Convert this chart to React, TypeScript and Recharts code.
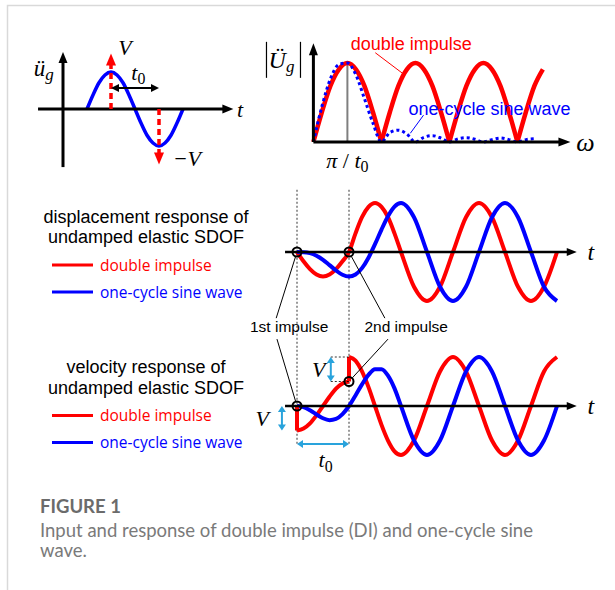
import React from "react";
import { ComposedChart, Line, XAxis, YAxis, ReferenceLine, ReferenceDot } from "recharts";

// ground acceleration: one cycle of sine, time in units of t0
const inputT = [0, 0.125, 0.25, 0.375, 0.5, 0.625, 0.75, 0.875, 1, 1.125, 1.25, 1.375, 1.5, 1.625, 1.75, 1.875, 2];
const inputAcc = [0, 0.38, 0.71, 0.92, 1, 0.92, 0.71, 0.38, 0, -0.38, -0.71, -0.92, -1, -0.92, -0.71, -0.38, 0];
const impulseSize = 1.5; // drawn length of the ±V impulse arrows

// Fourier amplitude, ω in units of π/t0
const omega = [0, 0.25, 0.5, 0.75, 1, 1.25, 1.5, 1.75, 2, 2.25, 2.5, 2.75, 3, 3.25, 3.5, 3.75, 4, 4.25, 4.5, 4.75, 5, 5.25, 5.5, 5.75, 6, 6.25, 6.5, 6.75];
const diSpectrum = [0, 0.38, 0.71, 0.92, 1, 0.92, 0.71, 0.38, 0, 0.38, 0.71, 0.92, 1, 0.92, 0.71, 0.38, 0, 0.38, 0.71, 0.92, 1, 0.92, 0.71, 0.38, 0, 0.38, 0.71, 0.92];
// stops at ω = 6.5
const sineSpectrum = [0, 0.45, 0.8, 0.98, 1, 0.85, 0.55, 0.24, 0, 0.12, 0.15, 0.1, 0, 0.06, 0.08, 0.05, 0, 0.04, 0.055, 0.035, 0, 0.03, 0.05, 0.03, 0, 0.03, 0.04];

// responses of the undamped SDOF, t in units of t0
const respT = [0, 0.125, 0.25, 0.375, 0.5, 0.625, 0.75, 0.875, 1, 1.125, 1.25, 1.375, 1.5, 1.625, 1.75, 1.875, 2, 2.25, 2.5, 2.75, 3, 3.25, 3.5, 3.75, 4, 4.25, 4.5, 4.75, 5];
const diDisp = [0, -0.19, -0.35, -0.46, -0.5, -0.46, -0.35, -0.19, 0, 0.38, 0.71, 0.92, 1, 0.92, 0.71, 0.38, 0, -0.71, -1, -0.71, 0, 0.71, 1, 0.71, 0, -0.71, -1, -0.71, 0];
const sineDisp = [0, -0.003, -0.024, -0.075, -0.159, -0.267, -0.378, -0.465, -0.5, -0.459, -0.329, -0.116, 0.159, 0.458, 0.731, 0.927, 1, 0.71, 0, -0.71, -1, -0.71, 0, 0.71, 1, 0.71, 0, -0.71, -1];
const diVelBefore = [-1, -0.92, -0.71, -0.38, 0, 0.38, 0.71, 0.92, 1]; // 0 ≤ t ≤ t0
const diVelAfter = [2, 1.85, 1.41, 0.77, 0, -0.77, -1.41, -1.85, -2, -1.41, 0, 1.41, 2, 1.41, 0, -1.41, -2, -1.41, 0, 1.41, 2]; // t ≥ t0
const sineVel = [0, -0.048, -0.177, -0.346, -0.5, -0.577, -0.53, -0.335, 0, 0.431, 0.884, 1.27, 1.5, 1.501, 1.237, 0.718, 0, -1.41, -2, -1.41, 0, 1.41, 2, 1.41, 0, -1.41, -2, -1.41, 0];
const impulseTimes = [0, 1];

const seriesNames = ["double impulse", "one-cycle sine wave"];

const RED = "#ff0000";
const BLUE = "#0000ff";
const CYAN = "#29a3dc";
const SERIF = "'Liberation Serif', 'DejaVu Serif', serif";
const SANS = "'Liberation Sans', Arial, sans-serif";
const LEGEND_FONT = "'Open Sans', 'Noto Sans', sans-serif";
const CAPTION_FONT = "Lato, 'Open Sans', sans-serif";
const NO_MARGIN = { top: 0, right: 0, bottom: 0, left: 0 };

type ArrowStyle = { color: string; width: number; dash?: string; start?: boolean; end?: boolean; head?: number; half?: number; trim?: number };

// line shape for ReferenceLine with optional filled arrowheads
function arrow(s: ArrowStyle) {
  return (p: any) => {
    let { x1, y1 } = p;
    const { x2, y2 } = p;
    const len = Math.hypot(x2 - x1, y2 - y1) || 1;
    const ux = (x2 - x1) / len;
    const uy = (y2 - y1) / len;
    if (s.trim) {
      x1 += ux * s.trim;
      y1 += uy * s.trim;
    }
    const h = s.head ?? 10;
    const w = s.half ?? 4;
    const tri = (tx: number, ty: number, dx: number, dy: number) =>
      `${tx},${ty} ${tx - dx * h - dy * w},${ty - dy * h + dx * w} ${tx - dx * h + dy * w},${ty - dy * h - dx * w}`;
    const sx = s.start ? x1 + ux * h * 0.9 : x1;
    const sy = s.start ? y1 + uy * h * 0.9 : y1;
    const ex = s.end ? x2 - ux * h * 0.9 : x2;
    const ey = s.end ? y2 - uy * h * 0.9 : y2;
    return (
      <g>
        <line x1={sx} y1={sy} x2={ex} y2={ey} stroke={s.color} strokeWidth={s.width} strokeDasharray={s.dash} />
        {s.end && <polygon points={tri(x2, y2, ux, uy)} fill={s.color} />}
        {s.start && <polygon points={tri(x1, y1, -ux, -uy)} fill={s.color} />}
      </g>
    );
  };
}

const seg = (x1: number, y1: number, x2: number, y2: number, style: ArrowStyle, yAxisId: string | number = 0) => (
  <ReferenceLine
    yAxisId={yAxisId}
    ifOverflow="visible"
    segment={[{ x: x1, y: y1 }, { x: x2, y: y2 }]}
    shape={arrow(style)}
  />
);

const textAt = (x: number, y: number, render: (cx: number, cy: number) => React.ReactNode, yAxisId: string | number = 0) => (
  <ReferenceDot x={x} y={y} r={0} yAxisId={yAxisId} ifOverflow="visible" shape={(p: any) => <g>{render(p.cx, p.cy)}</g>} />
);

const ring = (p: any) => <circle cx={p.cx} cy={p.cy} r={4.5} fill="none" stroke="#000" strokeWidth={2} />;

const italic = (s: string, size = 22) => (x: number, y: number) => (
  <text x={x} y={y} fontFamily={SERIF} fontStyle="italic" fontSize={size} textAnchor="middle" dominantBaseline="central">
    {s}
  </text>
);

const tZero = (size = 22) => (x: number, y: number) => (
  <text x={x} y={y} fontFamily={SERIF} fontSize={size} textAnchor="middle" dominantBaseline="central">
    <tspan fontStyle="italic">t</tspan>
    <tspan fontSize={size * 0.72} dy={size * 0.3}>0</tspan>
  </text>
);

const plain = (s: string, color: string, size: number) => (x: number, y: number) => (
  <text x={x} y={y} fontFamily={SANS} fontSize={size} fill={color} textAnchor="middle" dominantBaseline="central">
    {s}
  </text>
);

const curve = (key: string, color: string, width: number, yAxisId: string | number = 0, dash?: string) => (
  <Line
    dataKey={key}
    yAxisId={yAxisId}
    type="monotone"
    stroke={color}
    strokeWidth={width}
    strokeDasharray={dash}
    dot={false}
    activeDot={false}
    connectNulls={false}
    isAnimationActive={false}
  />
);

function InputPanel() {
  const rows = inputT.map((t, i) => ({ t, acc: inputAcc[i] }));
  const peak = rows.reduce((a, b) => (b.acc > a.acc ? b : a));
  const trough = rows.reduce((a, b) => (b.acc < a.acc ? b : a));
  const impulse = { color: RED, width: 3.5, dash: "6 4", end: true, head: 12, half: 5 };
  return (
    <div style={{ position: "absolute", left: 27, top: 35 }}>
      <ComposedChart width={228} height={148} data={rows} margin={NO_MARGIN}>
        <XAxis type="number" dataKey="t" domain={[-1.25, 3.5]} hide allowDataOverflow />
        <YAxis type="number" domain={[-2, 2]} hide allowDataOverflow />
        {curve("acc", BLUE, 3.5)}
        {seg(-1.02, 0, 3.05, 0, { color: "#000", width: 3, end: true, head: 11, half: 4.5 })}
        {seg(-0.5, -1.57, -0.5, 1.54, { color: "#000", width: 3, end: true, head: 11, half: 4.5 })}
        {seg(peak.t, 0, peak.t, impulseSize, impulse)}
        {seg(trough.t, 0, trough.t, -impulseSize, impulse)}
        {seg(peak.t, 0.57, trough.t, 0.57, { color: "#000", width: 2, start: true, end: true, head: 8, half: 4 })}
        {textAt(0.79, 1.65, italic("V"))}
        {textAt(1.07, 1.01, tZero())}
        {textAt(3.19, 0, italic("t"))}
        {textAt(2.08, -1.35, italic("\u2212V"))}
        {textAt(-0.9, 1.1, (x, y) => (
          <text x={x} y={y} fontFamily={SERIF} fontStyle="italic" fontSize={23} textAnchor="middle" dominantBaseline="central">
            ü<tspan fontSize={17} dy={6}>g</tspan>
          </text>
        ))}
      </ComposedChart>
    </div>
  );
}

function SpectrumPanel() {
  // break the |sin| spectrum into humps at its zeros so the cusps stay sharp
  let hump = 0;
  const rows = omega.map((u, i) => {
    const row: Record<string, number | null> = { u, sine: i < sineSpectrum.length ? sineSpectrum[i] : null };
    const v = diSpectrum[i];
    row[`di${hump}`] = v;
    if (i > 0 && v === 0) {
      hump += 1;
      row[`di${hump}`] = v;
    }
    return row;
  });
  const humpKeys = Array.from({ length: hump + 1 }, (_, k) => `di${k}`);
  const axis = { color: "#000", width: 3, end: true, head: 12, half: 4.5 };
  return (
    <div style={{ position: "absolute", left: 258.6, top: 30 }}>
      <ComposedChart width={340} height={145} data={rows} margin={NO_MARGIN}>
        <XAxis type="number" dataKey="u" domain={[-1.6, 8.4]} hide allowDataOverflow />
        <YAxis type="number" domain={[-33 / 79, 112 / 79]} hide allowDataOverflow />
        {seg(1, 0, 1, 1, { color: "#7f7f7f", width: 2 })}
        {humpKeys.map((k) => (
          <Line key={k} dataKey={k} type="monotone" stroke={RED} strokeWidth={4.5} dot={false} activeDot={false} connectNulls={false} isAnimationActive={false} />
        ))}
        {curve("sine", BLUE, 3, 0, "3 3")}
        {seg(0, 0, 7.56, 0, axis)}
        {seg(0, 0, 0, 1.25, axis)}
        {seg(1.82, 1.13, 2.62, 0.87, { color: RED, width: 1 })}
        {seg(3.24, 0.34, 2.85, 0.11, { color: BLUE, width: 1 })}
        {textAt(2.88, 1.24, plain(seriesNames[0], RED, 18))}
        {textAt(5.18, 0.42, plain(seriesNames[1], BLUE, 18))}
        {textAt(8, 0, italic("\u03c9", 26))}
        {textAt(1, -0.23, (x, y) => (
          <text x={x} y={y} fontFamily={SERIF} fontSize={22} textAnchor="middle" dominantBaseline="central">
            <tspan fontStyle="italic">π</tspan> / <tspan fontStyle="italic">t</tspan>
            <tspan fontSize={16} dy={6}>0</tspan>
          </text>
        ))}
        {textAt(-0.88, 1.04, (x, y) => (
          <g>
            <line x1={x - 17} y1={y - 18} x2={x - 17} y2={y + 18} stroke="#000" strokeWidth={1.2} />
            <line x1={x + 17} y1={y - 18} x2={x + 17} y2={y + 18} stroke="#000" strokeWidth={1.2} />
            <text x={x - 2} y={y} fontFamily={SERIF} fontStyle="italic" fontSize={24} textAnchor="middle" dominantBaseline="central">
              Ü<tspan fontSize={17} dy={6}>g</tspan>
            </text>
          </g>
        ))}
      </ComposedChart>
    </div>
  );
}

function ResponsePanel() {
  const split = diVelBefore.length - 1;
  const rows = respT.map((t, i) => ({
    t,
    diDisp: diDisp[i],
    sineDisp: sineDisp[i],
    diVelA: i <= split ? diVelBefore[i] : null,
    diVelB: i >= split ? diVelAfter[i - split] : null,
    sineVel: sineVel[i],
  }));
  const [t1, t2] = impulseTimes;
  const jumps = [
    { t: t1, from: 0, to: diVelBefore[0] },
    { t: t2, from: diVelBefore[split], to: diVelAfter[0] },
  ];
  const axis = { color: "#000", width: 2.5, end: true, head: 10, half: 4 };
  const dotted = { color: "#000", width: 0.8, dash: "2 2" };
  const leader = { color: "#000", width: 1, trim: 5 };
  const cyan = { color: CYAN, width: 2, start: true, end: true, head: 6, half: 4 };
  return (
    <div style={{ position: "absolute", left: 245, top: 180 }}>
      <ComposedChart width={364} height={300} data={rows} margin={NO_MARGIN}>
        <XAxis type="number" dataKey="t" domain={[-1, 6]} hide allowDataOverflow />
        <YAxis yAxisId="disp" type="number" domain={[-228 / 49, 72 / 49]} hide allowDataOverflow />
        <YAxis yAxisId="vel" type="number" domain={[-74 / 24.5, 226 / 24.5]} hide allowDataOverflow />
        {impulseTimes.map((t) => (
          <ReferenceLine key={`v${t}`} yAxisId="disp" ifOverflow="visible" segment={[{ x: t, y: 1.27 }, { x: t, y: -3.92 }]} shape={arrow(dotted)} />
        ))}
        {curve("diDisp", RED, 4, "disp")}
        {curve("sineDisp", BLUE, 4, "disp")}
        {curve("diVelA", RED, 4, "vel")}
        {curve("diVelB", RED, 4, "vel")}
        {curve("sineVel", BLUE, 4, "vel")}
        {jumps.map((j) => (
          <ReferenceLine key={`j${j.t}`} yAxisId="vel" ifOverflow="visible" segment={[{ x: j.t, y: j.from }, { x: j.t, y: j.to }]} shape={arrow({ color: RED, width: 4 })} />
        ))}
        {seg(-0.23, 0, 5.38, 0, axis, "disp")}
        {seg(-0.23, 0, 5.38, 0, axis, "vel")}
        {textAt(5.65, 0, italic("t", 24), "disp")}
        {textAt(5.65, 0, italic("t", 24), "vel")}

        {/* impulse markers and their call-outs */}
        <ReferenceDot yAxisId="disp" x={t1} y={0} ifOverflow="visible" shape={ring} />
        <ReferenceDot yAxisId="disp" x={t2} y={0} ifOverflow="visible" shape={ring} />
        <ReferenceDot yAxisId="vel" x={t1} y={0} ifOverflow="visible" shape={ring} />
        <ReferenceDot yAxisId="vel" x={t2} y={jumps[1].from} ifOverflow="visible" shape={ring} />
        {seg(t1, 0, -0.4, -1.35, leader, "disp")}
        {seg(t2, 0, 1.69, -1.35, leader, "disp")}
        {seg(t1, 0, -0.385, 2.73, leader, "vel")}
        {seg(t2, jumps[1].from, 1.75, 2.73, leader, "vel")}
        {textAt(-0.15, -1.53, plain("1st impulse", "#000", 15.5), "disp")}
        {textAt(2.1, -1.53, plain("2nd impulse", "#000", 15.5), "disp")}

        {/* velocity jump annotations */}
        {seg(-0.29, jumps[0].from, -0.29, jumps[0].to, cyan, "vel")}
        {seg(0.65, jumps[1].from, 0.65, jumps[1].to, cyan, "vel")}
        {seg(0.65, jumps[1].from, t2, jumps[1].from, dotted, "vel")}
        {seg(0.65, jumps[1].to, t2, jumps[1].to, dotted, "vel")}
        {seg(t1, -1.55, t2, -1.55, cyan, "vel")}
        {textAt(-0.67, -0.49, italic("V"), "vel")}
        {textAt(0.42, 1.51, italic("V"), "vel")}
        {textAt(0.55, -2.16, tZero(), "vel")}
      </ComposedChart>
    </div>
  );
}

function LegendBlock({ y, title }: { y: number; title: string[] }) {
  const colors = [RED, BLUE];
  return (
    <g>
      {title.map((line, i) => (
        <text key={line} x={146} y={y + i * 20.6} textAnchor="middle" fontFamily={SANS} fontSize={18} fill="#000">
          {line}
        </text>
      ))}
      {seriesNames.map((name, i) => {
        const ly = y + 42.3 + i * 27;
        return (
          <g key={name}>
            <line x1={52} x2={93} y1={ly} y2={ly} stroke={colors[i]} strokeWidth={3} />
            <text x={100} y={ly + 5.7} fontFamily={LEGEND_FONT} fontSize={15.5} fill={colors[i]}>
              {name}
            </text>
          </g>
        );
      })}
    </g>
  );
}

export default function App() {
  return (
    <div style={{ position: "absolute", left: 0, top: 0, width: 615, height: 590, background: "#fff", overflow: "hidden" }}>
      <svg width={615} height={590} style={{ position: "absolute", left: 0, top: 0 }}>
        <path d="M7.5 590 V5.5 H615" fill="none" stroke="#d9d9d9" strokeWidth={1.5} />
        <LegendBlock y={222.7} title={["displacement response of", "undamped elastic SDOF"]} />
        <LegendBlock y={373.3} title={["velocity response of", "undamped elastic SDOF"]} />
        <text x={40} y={512.7} fontFamily={CAPTION_FONT} fontWeight={700} fontSize={18.5} fill="#6b6b6b">
          FIGURE 1
        </text>
        <text x={40} y={536.7} fontFamily={CAPTION_FONT} fontSize={18.5} fill="#7a7a7a">
          Input and response of double impulse (DI) and one-cycle sine
        </text>
        <text x={40} y={557} fontFamily={CAPTION_FONT} fontSize={18.5} fill="#7a7a7a">
          wave.
        </text>
      </svg>
      <InputPanel />
      <SpectrumPanel />
      <ResponsePanel />
    </div>
  );
}
